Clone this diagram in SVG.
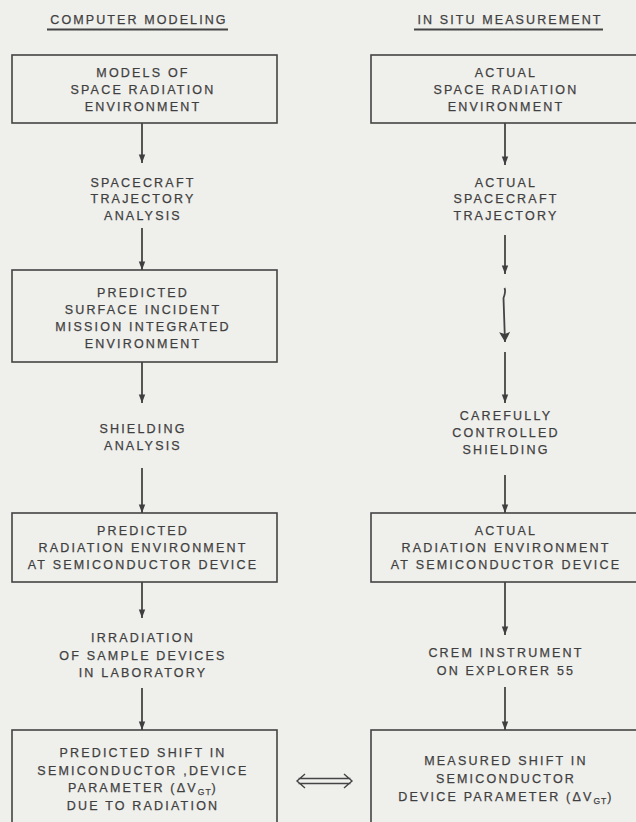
<svg xmlns="http://www.w3.org/2000/svg" width="636" height="822" viewBox="0 0 636 822">
<defs>
<marker id="ah" markerWidth="10" markerHeight="8" refX="9.5" refY="4" orient="auto" markerUnits="userSpaceOnUse">
<path d="M1,0.8 L9.5,4 L1,7.2 Z" fill="#3f3f3f"/>
</marker>
<marker id="ahb" markerWidth="12" markerHeight="12" refX="11" refY="6" orient="auto" markerUnits="userSpaceOnUse">
<path d="M1,0.5 L11,6 L1,11.5 L3,6 Z" fill="#3f3f3f"/>
</marker>
<style>
text{font-family:"Liberation Sans",Arial,sans-serif;font-size:12.5px;fill:#3f3f3f;letter-spacing:2.2px;text-anchor:middle;stroke:#3f3f3f;stroke-width:0.25}
.hd{letter-spacing:2.1px}
.box{fill:none;stroke:#444;stroke-width:1.6}
.ln{stroke:#444;stroke-width:1.8;fill:none}
.sub{font-size:8.5px;letter-spacing:1px}
</style>
</defs>
<rect width="636" height="822" fill="#efefec"/>

<g id="header-left">
<text class="hd" x="139" y="24">COMPUTER MODELING</text>
<line class="ln" x1="47" y1="29.5" x2="228" y2="29.5" stroke-width="1"/>
</g>
<g id="header-right">
<text class="hd" x="510" y="24">IN SITU MEASUREMENT</text>
<line class="ln" x1="414" y1="29.5" x2="603" y2="29.5" stroke-width="1"/>
</g>

<g id="connectors">
<line class="ln" x1="142" y1="123" x2="142" y2="163" marker-end="url(#ah)"/>
<line class="ln" x1="142" y1="228" x2="142" y2="270" marker-end="url(#ah)"/>
<line class="ln" x1="142" y1="362" x2="142" y2="403" marker-end="url(#ah)"/>
<line class="ln" x1="142" y1="468" x2="142" y2="513" marker-end="url(#ah)"/>
<line class="ln" x1="142" y1="582" x2="142" y2="618" marker-end="url(#ah)"/>
<line class="ln" x1="142" y1="688" x2="142" y2="730" marker-end="url(#ah)"/>

<line class="ln" x1="505" y1="123" x2="505" y2="165" marker-end="url(#ah)"/>
<line class="ln" x1="505" y1="235" x2="505" y2="274" marker-end="url(#ah)"/>
<path class="ln" d="M504.5,288 C506,291 505,294 503.5,298 L505,342" stroke-linejoin="round" marker-end="url(#ahb)"/>
<line class="ln" x1="505" y1="352" x2="505" y2="403" marker-end="url(#ah)"/>
<line class="ln" x1="505" y1="475" x2="505" y2="513" marker-end="url(#ah)"/>
<line class="ln" x1="505" y1="582" x2="505" y2="635" marker-end="url(#ah)"/>
<line class="ln" x1="505" y1="687" x2="505" y2="730" marker-end="url(#ah)"/>

<g id="equivalence">
<path d="M305,774 L297,781 L305,788 M298.5,778.5 L350.5,778.5 M298.5,783.5 L350.5,783.5 M344,774 L352,781 L344,788" fill="none" stroke="#444" stroke-width="1.4"/>
</g>
</g>

<g id="models-space-radiation">
<rect class="box" x="12" y="55" width="265" height="68"/>
<text x="143" y="77">MODELS OF</text>
<text x="143" y="94">SPACE RADIATION</text>
<text x="143" y="111">ENVIRONMENT</text>
</g>
<g id="trajectory-analysis">
<text x="143" y="187">SPACECRAFT</text>
<text x="143" y="203">TRAJECTORY</text>
<text x="143" y="220">ANALYSIS</text>
</g>
<g id="predicted-surface">
<rect class="box" x="12" y="270" width="265" height="92"/>
<text x="143" y="297">PREDICTED</text>
<text x="143" y="314">SURFACE INCIDENT</text>
<text x="143" y="331">MISSION INTEGRATED</text>
<text x="143" y="348">ENVIRONMENT</text>
</g>
<g id="shielding-analysis">
<text x="143" y="433">SHIELDING</text>
<text x="143" y="450">ANALYSIS</text>
</g>
<g id="predicted-radiation">
<rect class="box" x="12" y="513" width="265" height="69"/>
<text x="143" y="535">PREDICTED</text>
<text x="143" y="552">RADIATION ENVIRONMENT</text>
<text x="143" y="569">AT SEMICONDUCTOR DEVICE</text>
</g>
<g id="irradiation">
<text x="143" y="642">IRRADIATION</text>
<text x="143" y="660">OF SAMPLE DEVICES</text>
<text x="143" y="677">IN LABORATORY</text>
</g>
<g id="predicted-shift">
<rect class="box" x="12" y="730" width="265" height="110"/>
<text x="143" y="757">PREDICTED SHIFT IN</text>
<text x="143" y="775">SEMICONDUCTOR ,DEVICE</text>
<text x="143" y="792">PARAMETER (ΔV<tspan class="sub" dy="3">GT</tspan><tspan dy="-3">)</tspan></text>
<text x="143" y="810">DUE TO RADIATION</text>
</g>

<g id="actual-space-radiation">
<rect class="box" x="371" y="55" width="300" height="68"/>
<text x="506" y="77">ACTUAL</text>
<text x="506" y="94">SPACE RADIATION</text>
<text x="506" y="111">ENVIRONMENT</text>
</g>
<g id="actual-trajectory">
<text x="506" y="187">ACTUAL</text>
<text x="506" y="203">SPACECRAFT</text>
<text x="506" y="220">TRAJECTORY</text>
</g>
<g id="controlled-shielding">
<text x="506" y="420">CAREFULLY</text>
<text x="506" y="437">CONTROLLED</text>
<text x="506" y="454">SHIELDING</text>
</g>
<g id="actual-radiation">
<rect class="box" x="371" y="513" width="300" height="69"/>
<text x="506" y="535">ACTUAL</text>
<text x="506" y="552">RADIATION ENVIRONMENT</text>
<text x="506" y="569">AT SEMICONDUCTOR DEVICE</text>
</g>
<g id="crem-instrument">
<text x="506" y="657">CREM INSTRUMENT</text>
<text x="506" y="675">ON EXPLORER 55</text>
</g>
<g id="measured-shift">
<rect class="box" x="371" y="730" width="300" height="110"/>
<text x="506" y="765">MEASURED SHIFT IN</text>
<text x="506" y="783">SEMICONDUCTOR</text>
<text x="506" y="801">DEVICE PARAMETER (ΔV<tspan class="sub" dy="3">GT</tspan><tspan dy="-3">)</tspan></text>
</g>
</svg>
